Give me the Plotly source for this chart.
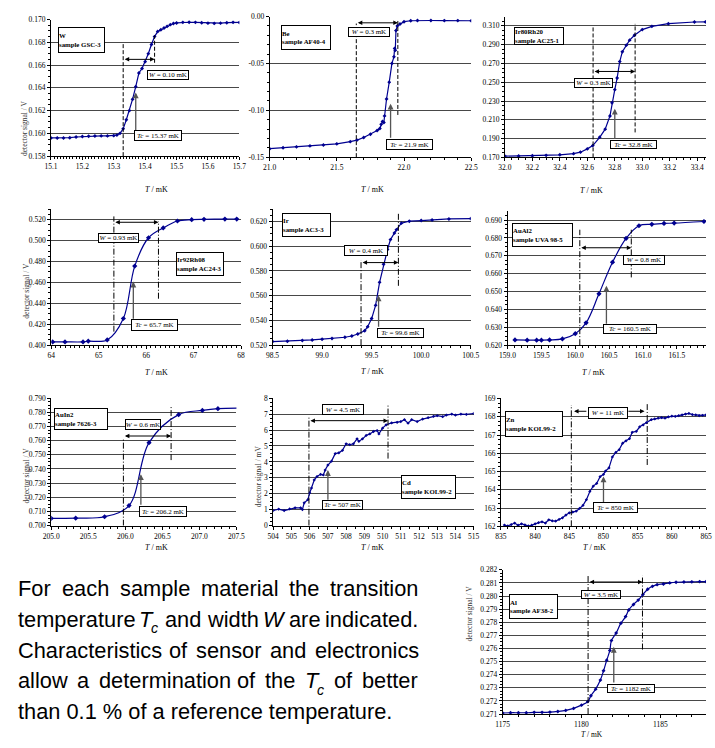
import plotly.graph_objects as go

W_PX, H_PX = 715, 748
NAVY = "#000090"

# ---------------- data ----------------
w_T = [15.10, 15.12, 15.14, 15.16, 15.18, 15.20, 15.22, 15.24, 15.26, 15.28, 15.30, 15.31, 15.32, 15.33,
       15.34, 15.35, 15.36, 15.37, 15.38, 15.39, 15.40, 15.41, 15.42, 15.43, 15.44, 15.45, 15.46, 15.47,
       15.48, 15.49, 15.50, 15.52, 15.54, 15.56, 15.58, 15.60, 15.62, 15.64, 15.66, 15.68, 15.70]
w_V = [0.15960, 0.15960, 0.15960, 0.15962, 0.15968, 0.15972, 0.15975, 0.15977, 0.15978, 0.15978, 0.15980,
       0.15985, 0.16000, 0.16040, 0.16120, 0.16200, 0.16300, 0.16410, 0.16530, 0.16570, 0.16630, 0.16700,
       0.16780, 0.16850, 0.16895, 0.16910, 0.16925, 0.16940, 0.16955, 0.16965, 0.16970, 0.16975, 0.16976,
       0.16975, 0.16972, 0.16968, 0.16966, 0.16968, 0.16972, 0.16975, 0.16974]

be_T = [21.00, 21.10, 21.20, 21.30, 21.40, 21.50, 21.60, 21.65, 21.70, 21.75, 21.80, 21.82, 21.83, 21.84,
        21.85, 21.855, 21.87, 21.89, 21.91, 21.925, 21.93, 21.935, 21.94, 21.95, 21.97, 22.00, 22.05,
        22.10, 22.20, 22.30, 22.40, 22.50]
be_V = [-0.1410, -0.1400, -0.1390, -0.1380, -0.1370, -0.1358, -0.1335, -0.1318, -0.1290, -0.1255, -0.1215,
        -0.1195, -0.1150, -0.1120, -0.1130, -0.1060, -0.0880, -0.0700, -0.0500, -0.0430, -0.0340, -0.0360,
        -0.0150, -0.0100, -0.0080, -0.0055, -0.0045, -0.0042, -0.0042, -0.0043, -0.0043, -0.0045]

irrh20_T = [32.00, 32.10, 32.20, 32.30, 32.40, 32.50, 32.55, 32.60, 32.64, 32.69, 32.73, 32.765, 32.78,
            32.80, 32.817, 32.836, 32.855, 32.884, 32.908, 32.943, 33.00, 33.07, 33.19, 33.38, 33.46]
irrh20_V = [0.1714, 0.1716, 0.1718, 0.1722, 0.1728, 0.1740, 0.1756, 0.1791, 0.1826, 0.1914, 0.2001, 0.2141,
            0.2281, 0.2421, 0.2544, 0.2719, 0.2824, 0.2894, 0.2947, 0.2999, 0.3059, 0.3094, 0.3122, 0.3140,
            0.3141]

irrh08_T = [64.03, 64.29, 64.67, 64.78, 65.18, 65.52, 65.76, 66.05, 66.36, 66.66, 66.96, 67.22, 67.66, 67.91]
irrh08_V = [0.4031, 0.4031, 0.4031, 0.4038, 0.4050, 0.4255, 0.4756, 0.5027, 0.5121, 0.5187, 0.5200, 0.5203,
            0.5206, 0.5206]

ir_T = [98.50, 98.65, 98.80, 98.90, 99.00, 99.10, 99.23, 99.30, 99.36, 99.43, 99.46, 99.50, 99.54, 99.58,
        99.62, 99.66, 99.69, 99.73, 99.75, 99.80, 99.88, 100.00, 100.11, 100.28, 100.50]
ir_V = [0.5229, 0.5232, 0.5237, 0.5242, 0.5248, 0.5254, 0.5264, 0.5274, 0.5290, 0.5317, 0.5349, 0.5415,
        0.5522, 0.5708, 0.5854, 0.5974, 0.6054, 0.6107, 0.6134, 0.6187, 0.6203, 0.6208, 0.6213, 0.6221, 0.6224]

aual2_T = [159.11, 159.29, 159.43, 159.50, 159.62, 159.81, 160.00, 160.16, 160.35, 160.55, 160.75, 160.94,
           161.13, 161.31, 161.46, 161.90]
aual2_V = [0.6229, 0.6228, 0.6228, 0.6228, 0.6229, 0.6235, 0.6264, 0.6325, 0.6487, 0.6664, 0.6797, 0.6868,
           0.6876, 0.6881, 0.6883, 0.6892]

auin2_T = [205.00, 205.33, 205.72, 206.05, 206.32, 206.72, 207.04, 207.25, 207.55]
auin2_V = [0.7051, 0.7053, 0.7063, 0.7142, 0.7586, 0.7784, 0.7814, 0.7826, 0.7830]

cd_T = [504.0, 504.3, 504.6, 504.9, 505.2, 505.5, 505.6, 505.7, 505.9, 506.0, 506.1, 506.25, 506.4, 506.6,
        506.75, 506.85, 507.0, 507.2, 507.4, 507.6, 507.8, 508.0, 508.2, 508.4, 508.6, 508.7, 508.9, 509.1,
        509.3, 509.5, 509.7, 509.8, 510.0, 510.2, 510.5, 510.8, 511.0, 511.2, 511.4, 511.6, 511.9, 512.2,
        512.5, 512.8, 513.0, 513.3, 513.5, 513.8, 514.0, 514.3, 514.6, 515.0]
cd_V = [0.95, 1.03, 0.95, 1.05, 1.12, 1.12, 1.01, 1.43, 1.63, 2.05, 2.36, 2.87, 3.08, 3.22, 3.18, 3.49, 3.80,
        4.05, 4.52, 4.57, 4.73, 5.14, 5.08, 5.14, 5.45, 5.29, 5.45, 5.66, 5.76, 5.91, 5.97, 5.76, 6.12, 6.33,
        6.45, 6.49, 6.53, 6.65, 6.43, 6.65, 6.53, 6.69, 6.78, 6.86, 6.90, 6.84, 6.94, 7.00, 6.94, 7.00, 6.98,
        7.04]

zn_T = [835.5, 836.0, 836.5, 837.0, 837.5, 838.0, 838.5, 839.0, 839.5, 840.0, 840.5, 841.0, 841.5, 842.0,
        842.5, 843.0, 843.5, 844.0, 844.5, 845.0, 845.5, 846.0, 846.5, 847.0, 847.5, 848.0, 848.5, 849.0,
        849.5, 850.0, 850.3, 850.8, 851.3, 851.8, 852.3, 852.8, 853.3, 853.8, 854.2, 854.8, 855.3, 855.8,
        856.3, 857.0, 857.5, 858.0, 858.5, 859.0, 859.5, 860.0, 860.5, 861.0, 861.5, 862.0, 862.5, 863.0,
        863.5, 864.0, 864.5, 865.0]
zn_V = [162.07, 162.02, 162.10, 162.18, 162.06, 162.14, 162.08, 162.02, 162.06, 162.14, 162.20, 162.25,
        162.18, 162.36, 162.30, 162.29, 162.38, 162.47, 162.62, 162.74, 162.78, 162.83, 162.98, 163.15,
        163.46, 163.91, 164.20, 164.35, 164.72, 164.85, 165.03, 165.20, 165.80, 166.05, 166.20, 166.55,
        166.68, 166.80, 167.15, 167.20, 167.45, 167.55, 167.68, 167.84, 167.88, 167.92, 167.95, 167.93,
        168.00, 168.03, 168.02, 168.06, 168.10, 168.15, 168.18, 168.12, 168.10, 168.06, 168.08, 168.10]

al_T = [1175.0, 1175.5, 1176.0, 1176.5, 1177.0, 1177.5, 1178.0, 1178.5, 1179.0, 1179.5, 1180.0, 1180.4,
        1180.6, 1180.9, 1181.2, 1181.4, 1181.6, 1181.8, 1181.9, 1182.2, 1182.5, 1182.8, 1183.0, 1183.3,
        1183.6, 1183.9, 1184.2, 1184.5, 1184.8, 1185.2, 1185.6, 1186.0, 1186.5, 1187.0, 1187.5, 1187.9]
al_V = [0.27108, 0.27110, 0.27110, 0.27110, 0.27113, 0.27113, 0.27115, 0.27120, 0.27128, 0.27143, 0.27168,
        0.27195, 0.27240, 0.27290, 0.27359, 0.27430, 0.27510, 0.27585, 0.27660, 0.27718, 0.27793, 0.27843,
        0.27894, 0.27936, 0.27969, 0.28012, 0.28052, 0.28074, 0.28087, 0.28092, 0.28100, 0.28105, 0.28107,
        0.28108, 0.28110, 0.28110]

materials = ["W", "Be", "Ir80Rh20", "Ir92Rh08", "Ir", "AuAl2", "AuIn2", "Cd", "Zn", "Al"]
samples = ["sample GSC-3", "sample AF40-4", "sample AC25-1", "sample AC24-3", "sample AC3-3",
           "sample UVA 98-5", "sample 7626-3", "sample KOL99-2", "sample KOL99-2", "sample AF38-2"]
tc_labels = ["15.37", "21.9", "32.8", "65.7", "99.6", "160.5", "206.2", "507", "850", "1182"]
w_labels = ["0.10", "0.3", "0.3", "0.93", "0.4", "0.8", "0.6", "4.5", "11", "3.5"]
tc_pos = [15.37, 21.90, 32.80, 65.73, 99.57, 160.46, 206.21, 507.0, 850.0, 1182.05]
w_lo = [15.33, 21.645, 32.642, 65.32, 99.393, 160.067, 205.974, 505.96, 845.29, 1180.42]
w_hi = [15.43, 21.954, 32.948, 66.26, 99.77, 160.827, 206.618, 510.30, 856.4, 1183.87]

paragraph = [
    ["For", "each", "sample", "material", "the", "transition"],
    ["temperature", "T_c", "and", "width", "W", "are", "indicated."],
    ["Characteristics", "of", "sensor", "and", "electronics"],
    ["allow", "a", "determination", "of", "the", "T_c", "of", "better"],
    ["than 0.1 % of a reference temperature."],
]

# ---------------- layout spec for each panel ----------------
DASH = "4px,2px"
DASHDOT = "6px,2px,1px,2px"
panels = [
    dict(T=w_T, V=w_V, px=(44, 237), py=(15.7, 154), xr=(15.1, 15.7), yr=(0.158, 0.170),
         xd=0.1, xmd=0.01, xf=".1f", yd=0.002, ymd=0.0005, yf=".3f", spline=False, ms=3, dash=DASH,
         ytitle="detector signal / V", ytp=(13, 97), xtp=(140, 183),
         lab=(51, 23, 98, 50), wbox=(142, 67, 184, 78), tbox=(129, 128, 177, 140),
         lo_y=(0.16796, 0.158), hi_y=(0.1686, 0.1662), arr_y=0.1665, tc_y=(0.1601, 0.1636)),
    dict(T=be_T, V=be_V, px=(268, 474.5), py=(12.7, 155), xr=(21.0, 22.5), yr=(-0.15, 0.0),
         xd=0.5, xmd=0.1, xf=".1f", yd=0.05, ymd=0.01, yf=".2f", spline=False, ms=3, dash=DASH,
         ytitle=None, xtp=(373, 183),
         lab=(280, 21, 330, 47), wbox=(348, 23, 390, 34), tbox=(387, 137, 434, 149),
         lo_y=(-0.0075, -0.15), hi_y=(-0.004, -0.105), arr_y=-0.0067, tc_y=(-0.131, -0.093)),
    dict(T=irrh20_T, V=irrh20_V, px=(509, 715), py=(12.7, 155.3), xr=(32.0, 33.464), yr=(0.170, 0.3198),
         xd=0.2, xmd=0.05, xf=".1f", yd=0.02, ymd=0.005, yf=".3f", spline=False, ms=3, dash=DASH,
         ytitle=None, xtp=(610, 184),
         lab=(518, 23, 568, 42), wbox=(580, 75, 619, 86), tbox=(617, 138, 664, 148),
         lo_y=(0.3103, 0.170), hi_y=(0.312, 0.1966), arr_y=0.2614, tc_y=(0.1879, 0.2218)),
    dict(T=irrh08_T, V=irrh08_V, px=(44.3, 238.7), py=(207.7, 345.3), xr=(64, 68), yr=(0.400, 0.530),
         xd=1, xmd=0.1, xf="d", yd=0.02, ymd=0.005, yf=".3f", spline=True, ms=4, dash=DASHDOT,
         ytitle="detector signal / V", ytp=(14, 290), xtp=(140, 373), ymax_tick=0.52,
         lab=(172, 251, 220, 276), wbox=(92, 232, 133, 243), tbox=(126, 319, 173, 332),
         lo_y=(0.5231, 0.4129), hi_y=(0.5184, 0.4444), arr_y=0.5175, tc_y=(0.4239, 0.4608)),
    dict(T=ir_T, V=ir_V, px=(271, 474), py=(207.7, 345.3), xr=(98.5, 100.5), yr=(0.520, 0.630),
         xd=0.5, xmd=0.1, xf=".1f", yd=0.02, ymd=0.005, yf=".3f", spline=False, ms=3, dash=DASHDOT,
         ytitle=None, xtp=(373, 372), ymax_tick=0.62,
         lab=(281, 212, 330, 237), wbox=(344, 244, 388, 256), tbox=(378, 328, 425, 339),
         lo_y=(0.5889, 0.520), hi_y=(0.6266, 0.568), arr_y=0.5868, tc_y=(0.5336, 0.5602)),
    dict(T=aual2_T, V=aual2_V, px=(511.7, 715), py=(210, 345.3), xr=(159.0, 161.93), yr=(0.620, 0.6948),
         xd=0.5, xmd=0.1, xf=".1f", yd=0.01, ymd=0.0025, yf=".3f", spline=True, ms=4, dash=DASHDOT,
         ytitle=None, xtp=(612, 373),
         lab=(516, 222, 577, 247), wbox=(630, 254, 672, 265), tbox=(609, 324, 663, 335),
         lo_y=(0.6846, 0.620), hi_y=(0.6846, 0.6579), arr_y=0.6745, tc_y=(0.6312, 0.6533)),
    dict(T=auin2_T, V=auin2_V, px=(44.3, 234), py=(399, 528), xr=(205.0, 207.5), yr=(0.700, 0.790),
         xd=0.5, xmd=0.1, xf=".1f", yd=0.01, ymd=0.0025, yf=".3f", spline=True, ms=4, dash=DASHDOT,
         ytitle="detector signal / V", ytp=(14, 477), xtp=(140, 555),
         lab=(47, 409, 101, 432), wbox=(120, 420, 156, 432), tbox=(134, 508, 182, 520),
         lo_y=(0.7614, 0.700), hi_y=(0.7847, 0.7463), arr_y=0.7633, tc_y=(0.7137, 0.7363)),
    dict(T=cd_T, V=cd_V, px=(271.7, 477), py=(399, 528), xr=(504, 515), yr=(0, 8),
         xd=1, xmd=0.5, xf="d", yd=1, ymd=0.25, yf="d", spline=False, ms=2.5, dash=DASHDOT,
         ytitle="detector signal / mV", ytp=(256, 478), xtp=(373, 555),
         lab=(403, 477, 458, 502), wbox=(322, 405, 364, 417), tbox=(322, 502, 363, 513),
         lo_y=(6.8, 0.0), hi_y=(7.62, 4.21), arr_y=6.59, tc_y=(1.53, 3.49)),
    dict(T=zn_T, V=zn_V, px=(505, 715), py=(399.3, 528.7), xr=(835, 865), yr=(162, 169),
         xd=5, xmd=1, xf="d", yd=1, ymd=0.25, yf="d", spline=False, ms=2.5, dash=DASHDOT,
         ytitle=None, xtp=(613, 555),
         lab=(509, 412, 567, 439), wbox=(594, 408, 634, 421), tbox=(599, 504, 644, 516),
         lo_y=(168.64, 162), hi_y=(168.69, 165.36), arr_y=168.3, tc_y=(163.2, 164.73), split_arrow=True),
    dict(T=al_T, V=al_V, px=(506.7, 715), py=(572.7, 718.7), xr=(1175, 1187.9), yr=(0.271, 0.282),
         xd=5, xmd=1, xf="d", yd=0.001, ymd=0.00025, yf=".3f", spline=True, ms=3, dash=DASHDOT,
         ytitle="detector signal / V", ytp=(477, 645), xtp=(610, 743.5), xts=7.5,
         lab=(513, 597, 562, 623), wbox=(587, 593, 627, 603), tbox=(614, 688, 662, 698),
         lo_y=(0.28157, 0.271), hi_y=(0.28157, 0.27592), arr_y=0.28107, tc_y=(0.27329, 0.27613)),
]


def px2x(px):
    return px / W_PX


def py2y(py):
    return 1 - py / H_PX


SERIF = "Liberation Serif, Times New Roman, serif"
SANS = "Liberation Sans, Arial, sans-serif"

fig = go.Figure()
layout_axes = {}
shapes = []
annotations = []


def box(rect, text, align="center", size=7):
    l, t, r, b = rect
    annotations.append(dict(
        x=px2x(l), y=py2y(t), xref="paper", yref="paper", xanchor="left", yanchor="top",
        width=r - l - 2, height=b - t - 3, text=text, showarrow=False, align=align, valign="middle",
        bgcolor="white", bordercolor="black", borderwidth=1, borderpad=0,
        font=dict(family=SERIF, size=size, color="black")))


for i, p in enumerate(panels):
    n = i + 1
    sfx = "" if n == 1 else str(n)
    xa, ya = "x" + sfx, "y" + sfx
    fig.add_trace(go.Scatter(
        x=p["T"], y=p["V"], mode="lines+markers", xaxis=xa, yaxis=ya,
        line=dict(color=NAVY, width=1.2, shape="spline" if p["spline"] else "linear"),
        marker=dict(symbol="diamond", size=p["ms"], color=NAVY),
        showlegend=False, hoverinfo="skip"))

    ymax_tick = p.get("ymax_tick", p["yr"][1])
    nt = int(round((ymax_tick - p["yr"][0]) / p["yd"]))
    yvals = [p["yr"][0] + k * p["yd"] for k in range(nt + 1)]
    if p["yf"] == ".2f":
        ytext = [("%.2f" % v).replace("-0.00", "0.00") for v in yvals]
    elif p["yf"] == "d":
        ytext = ["%d" % round(v) for v in yvals]
    else:
        ytext = ["%.3f" % v for v in yvals]

    common = dict(showline=True, linecolor="black", linewidth=1, ticks="outside", ticklen=3,
                  tickwidth=1, tickcolor="black", zeroline=False, fixedrange=True,
                  tickfont=dict(family=SERIF, size=7.5, color="black"))
    layout_axes["xaxis" + sfx] = dict(
        common, domain=[px2x(p["px"][0]), px2x(p["px"][1])], anchor=ya, range=list(p["xr"]),
        tick0=p["xr"][0], dtick=p["xd"], tickformat=p["xf"], showgrid=False,
        minor=dict(ticks="outside", ticklen=2, dtick=p["xmd"], tickcolor="black", showgrid=False))
    layout_axes["yaxis" + sfx] = dict(
        common, domain=[py2y(p["py"][1]), py2y(p["py"][0])], anchor=xa, range=list(p["yr"]),
        tickmode="array", tickvals=yvals, ticktext=ytext, showgrid=True, gridcolor="#1a1a1a",
        gridwidth=0.8,
        minor=dict(ticks="outside", ticklen=2, dtick=p["ymd"], tick0=p["yr"][0], tickcolor="black",
                   showgrid=False))

    # axis titles
    annotations.append(dict(x=px2x(p["xtp"][0]), y=py2y(p["xtp"][1]), xref="paper", yref="paper",
                            text="<i>T</i> / mK", showarrow=False, borderpad=0, borderwidth=0,
                            font=dict(family=SERIF, size=p.get("xts", 8), color="black")))
    if p["ytitle"]:
        annotations.append(dict(x=px2x(p["ytp"][0]), y=py2y(p["ytp"][1]), xref="paper", yref="paper",
                                text=p["ytitle"], showarrow=False, textangle=-90, borderpad=0,
                                borderwidth=0, font=dict(family=SERIF, size=7.5, color="#333")))

    # W lines
    for xv, (ytop, ybot) in ((w_lo[i], p["lo_y"]), (w_hi[i], p["hi_y"])):
        shapes.append(dict(type="line", xref=xa, yref=ya, x0=xv, x1=xv, y0=ybot, y1=ytop,
                           line=dict(color="black", width=1, dash=p["dash"])))

    # W arrow
    if p.get("split_arrow"):
        l, t, r, b = p["wbox"]
        x_per_px = (p["xr"][1] - p["xr"][0]) / (p["px"][1] - p["px"][0])
        xl = p["xr"][0] + (l - p["px"][0]) * x_per_px
        xr_ = p["xr"][0] + (r - p["px"][0]) * x_per_px
        for x_head, x_tail in ((w_lo[i] + 0.4, xl), (w_hi[i] - 0.4, xr_)):
            annotations.append(dict(x=x_head, y=p["arr_y"], ax=x_tail, ay=p["arr_y"], xref=xa, yref=ya,
                                    axref=xa, ayref=ya, text="", showarrow=True, arrowhead=2,
                                    arrowsize=0.9, arrowwidth=1, arrowcolor="black"))
    else:
        annotations.append(dict(x=w_hi[i], y=p["arr_y"], ax=w_lo[i], ay=p["arr_y"], xref=xa, yref=ya,
                                axref=xa, ayref=ya, text="", showarrow=True, arrowhead=2,
                                arrowside="end+start", arrowsize=0.9, arrowwidth=1, arrowcolor="black"))
    # Tc arrow
    annotations.append(dict(x=tc_pos[i], y=p["tc_y"][1], ax=tc_pos[i], ay=p["tc_y"][0], xref=xa, yref=ya,
                            axref=xa, ayref=ya, text="", showarrow=True, arrowhead=2, arrowsize=0.9,
                            arrowwidth=1.3, arrowcolor="#555"))

    # text boxes
    box(p["lab"], "<b>%s</b><br><b>%s</b>" % (materials[i], samples[i]), align="left", size=6.8)
    box(p["wbox"], "<i>W</i> = %s mK" % w_labels[i])
    box(p["tbox"], "<i>Tc</i> = %s mK" % tc_labels[i])

# ---------------- paragraph (justified by hand, Arial metrics) ----------------
CW = {" ": 278, "F": 611, "o": 556, "r": 333, "e": 556, "a": 556, "c": 500, "h": 556, "s": 500,
      "m": 833, "p": 556, "l": 222, "t": 278, "i": 222, "n": 556, "T": 611, "d": 556, "w": 722,
      "W": 944, "C": 722, "b": 556, "u": 556, ".": 278, "0": 556, "1": 556, "%": 889, "f": 278}
FS = 21.8
SUB = 0.65
LEFT, RIGHT = 10.7, 418.5
BASE0, LEAD = 600, 31


def word_width(wd):
    if wd == "T_c":
        return (CW["T"] + CW["c"] * SUB) * FS / 1000
    return sum(CW.get(ch, 556) for ch in wd) * FS / 1000


def para_text(x, y, txt, size):
    annotations.append(dict(x=px2x(x), y=py2y(y), xref="paper", yref="paper", xanchor="left",
                            yanchor="middle", text=txt, showarrow=False, borderpad=0, borderwidth=0,
                            font=dict(family=SANS, size=size, color="black")))


for li, words in enumerate(paragraph):
    base = BASE0 + li * LEAD
    widths = [word_width(wd) for wd in words]
    gap = (RIGHT - LEFT - sum(widths)) / (len(words) - 1) if len(words) > 1 else 0
    xcur = LEFT
    for wd, ww in zip(words, widths):
        if wd == "T_c":
            para_text(xcur, base - 8, "<i>T</i>", FS)
            para_text(xcur + CW["T"] * FS / 1000 - 1, base + 1, "<i>c</i>", FS * SUB)
        else:
            para_text(xcur, base - 8, "<i>W</i>" if wd == "W" else wd, FS)
        xcur += ww + gap

fig.update_layout(width=W_PX, height=H_PX, margin=dict(l=0, r=0, t=0, b=0), paper_bgcolor="white",
                  plot_bgcolor="white", showlegend=False, shapes=shapes, annotations=annotations,
                  **layout_axes)
fig.write_html("out.html", config={"displayModeBar": False, "staticPlot": True},
               post_script="document.body.style.margin='0px';")
